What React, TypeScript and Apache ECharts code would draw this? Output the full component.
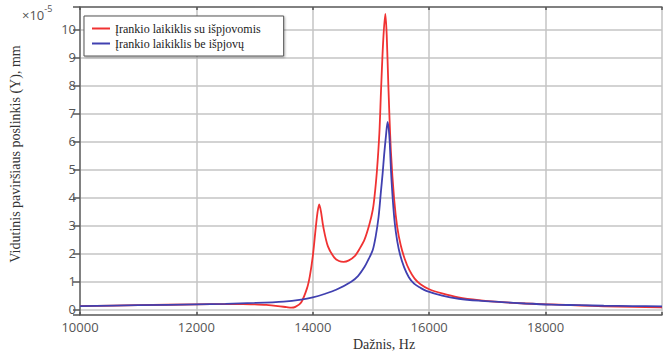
import React, { useEffect, useRef } from "react";
import * as echarts from "echarts";

const xTicks = [10000, 12000, 14000, 16000, 18000];
const yTicks = [0, 1, 2, 3, 4, 5, 6, 7, 8, 9, 10];

const seriesNames = ["Įrankio laikiklis su išpjovomis", "Įrankio laikiklis be išpjovų"];

const redFreq = [10000, 11000, 12000, 12500, 12800, 13000, 13200, 13400, 13550, 13630, 13700, 13800, 13900, 13950, 14000, 14050, 14080, 14110, 14140, 14180, 14260, 14370, 14450, 14530, 14620, 14720, 14800, 14890, 14974, 15030, 15059, 15100, 15144, 15172, 15210, 15246, 15270, 15297, 15343, 15399, 15450, 15510, 15580, 15660, 15750, 15850, 16000, 16220, 16500, 16850, 17250, 17650, 18100, 18600, 19000, 19500, 20000];
const redVal = [0.12, 0.15, 0.18, 0.19, 0.19, 0.18, 0.16, 0.12, 0.08, 0.06, 0.09, 0.25, 0.75, 1.2, 1.9, 2.9, 3.45, 3.75, 3.5, 2.95, 2.25, 1.85, 1.73, 1.7, 1.75, 1.9, 2.15, 2.5, 3.05, 3.55, 4.0, 4.9, 6.3, 7.8, 9.6, 10.55, 9.8, 8.07, 5.6, 3.9, 2.95, 2.3, 1.8, 1.4, 1.1, 0.9, 0.72, 0.57, 0.43, 0.33, 0.26, 0.21, 0.18, 0.14, 0.11, 0.09, 0.07];

const blueFreq = [10000, 11000, 12000, 12500, 13000, 13500, 13800, 14000, 14200, 14400, 14660, 14780, 14890, 14960, 15030, 15080, 15130, 15170, 15200, 15225, 15257, 15285, 15315, 15345, 15375, 15410, 15450, 15500, 15570, 15650, 15740, 15850, 15950, 16223, 16508, 16849, 17250, 17650, 18100, 18600, 19000, 19500, 20000];
const blueVal = [0.12, 0.15, 0.18, 0.2, 0.23, 0.28, 0.35, 0.43, 0.55, 0.7, 0.99, 1.2, 1.52, 1.8, 2.12, 2.6, 3.3, 4.2, 4.86, 5.5, 6.2, 6.7, 6.2, 4.9, 3.9, 3.05, 2.45, 1.95, 1.5, 1.15, 0.92, 0.77, 0.66, 0.49, 0.38, 0.31, 0.26, 0.21, 0.17, 0.15, 0.13, 0.12, 0.11];

const RED = "#f03232";
const BLUE = "#4040b0";
const SANS = "'Open Sans', sans-serif";
const SERIF = "'Liberation Serif', 'Times New Roman', serif";

export default function App() {
  const ref = useRef<HTMLDivElement>(null);
  useEffect(() => {
    if (!ref.current) return;
    const chart = echarts.init(ref.current, null, { renderer: "svg" });
    const redData = redFreq.map((f, i) => [f, redVal[i]]);
    const blueData = blueFreq.map((f, i) => [f, blueVal[i]]);
    const axisLineStyle = { color: "#666", width: 1.5 };
    chart.setOption({
      animation: false,
      backgroundColor: "#fff",
      grid: { left: 80, top: 7, bottom: 39, right: -1.5, containLabel: false },
      xAxis: [
        {
          type: "value",
          min: xTicks[0],
          max: 20000,
          interval: 2000,
          position: "bottom",
          axisLine: { show: true, onZero: false, lineStyle: axisLineStyle },
          axisTick: { show: true, inside: true, length: 3, lineStyle: { color: "#555", width: 1.5 } },
          axisLabel: {
            color: "#555",
            fontFamily: SANS,
            fontSize: 13,
            margin: 5,
            formatter: (v: number) => (xTicks.includes(v) ? String(v) : ""),
          },
          splitLine: { show: true, lineStyle: { color: "#c4c4c4", width: 1.5 } },
        },
        {
          type: "value",
          min: xTicks[0],
          max: 20000,
          interval: 2000,
          position: "top",
          axisLine: { show: true, onZero: false, lineStyle: axisLineStyle },
          axisTick: { show: true, inside: true, length: 3, lineStyle: { color: "#555", width: 1.5 } },
          axisLabel: { show: false },
          splitLine: { show: false },
        },
      ],
      yAxis: {
        type: "value",
        min: -0.2,
        max: 10.8,
        splitNumber: 11,
        axisLine: { show: true, onZero: false, lineStyle: axisLineStyle },
        axisTick: { show: true, inside: false, length: 7, lineStyle: { color: "#555", width: 1.5 } },
        axisLabel: {
          color: "#555",
          fontFamily: SANS,
          fontSize: 13,
          margin: 4,
          formatter: (v: number) => {
            const r = Math.round(v);
            return Math.abs(v - r) < 1e-6 && yTicks.includes(r) ? String(r) : "";
          },
        },
        splitLine: { show: true, lineStyle: { color: "#c4c4c4", width: 1.5 } },
      },
      legend: {
        orient: "vertical",
        left: 84,
        top: 16,
        padding: [6, 23, 6, 8],
        itemWidth: 18,
        itemHeight: 2,
        itemGap: 2,
        icon: "rect",
        backgroundColor: "#fff",
        borderColor: "#555",
        borderWidth: 1,
        shadowColor: "rgba(0,0,0,0.3)",
        shadowBlur: 2,
        shadowOffsetX: 1,
        shadowOffsetY: 1,
        textStyle: { fontFamily: SERIF, fontSize: 12, color: "#222", lineHeight: 13 },
        data: seriesNames,
      },
      series: [
        {
          name: seriesNames[0],
          type: "line",
          data: redData,
          symbol: "none",
          smooth: 0.3,
          lineStyle: { color: RED, width: 1.8 },
          itemStyle: { color: RED },
          z: 3,
        },
        {
          name: seriesNames[1],
          type: "line",
          data: blueData,
          symbol: "none",
          smooth: 0.3,
          lineStyle: { color: BLUE, width: 1.8 },
          itemStyle: { color: BLUE },
          z: 4,
        },
      ],
      graphic: [
        {
          type: "text",
          left: 22,
          top: 4,
          style: {
            text: "{a|×10}{b|-5}",
            rich: {
              a: { fontFamily: SANS, fontSize: 13, fill: "#555", verticalAlign: "bottom" },
              b: { fontFamily: SANS, fontSize: 9, fill: "#555", verticalAlign: "top", padding: [0, 0, 8, 0] },
            },
          },
        },
        {
          type: "text",
          x: 384,
          y: 344,
          style: {
            text: "Dažnis, Hz",
            font: `14px ${SERIF}`,
            fill: "#333",
            textAlign: "center",
            textVerticalAlign: "middle",
          },
        },
        {
          type: "text",
          x: 15,
          y: 154,
          rotation: Math.PI / 2,
          style: {
            text: "Vidutinis paviršiaus poslinkis (Y), mm",
            font: `14px ${SERIF}`,
            fill: "#333",
            textAlign: "center",
            textVerticalAlign: "middle",
          },
        },
      ],
    });
    return () => chart.dispose();
  }, []);
  return <div ref={ref} style={{ width: 665, height: 354, position: "absolute", left: 0, top: 0 }} />;
}
